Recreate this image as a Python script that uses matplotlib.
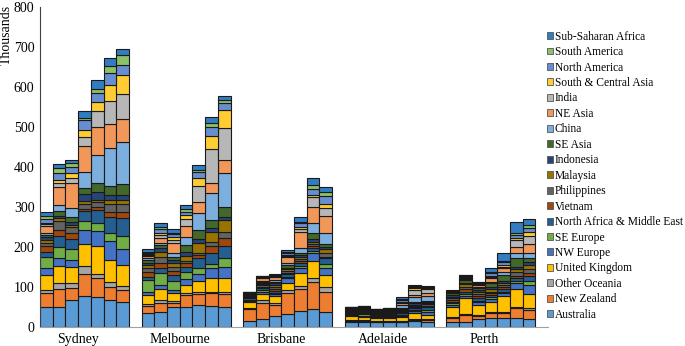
import numpy as np
import matplotlib
matplotlib.use("Agg")
import matplotlib.pyplot as plt
from matplotlib.patches import Patch

plt.rcParams['font.family'] = ['Liberation Serif', 'DejaVu Serif']

# Regions, bottom of the stack first
regions = ["Australia", "New Zealand", "Other Oceania", "United Kingdom",
           "NW Europe", "SE Europe", "North Africa & Middle East", "Vietnam",
           "Philippines", "Malaysia", "Indonesia", "SE Asia", "China",
           "NE Asia", "India", "South & Central Asia", "North America",
           "South America", "Sub-Saharan Africa"]

colors = ['#5B9BD5', '#ED7D31', '#A5A5A5', '#FFC000', '#4472C4', '#70AD47',
          '#255E91', '#9E480E', '#636363', '#997300', '#264478', '#43682B',
          '#7CAFDD', '#F1975A', '#B7B7B7', '#FFCD33', '#698ED0', '#8CC168',
          '#327DC2']

cities = ["Sydney", "Melbourne", "Brisbane", "Adelaide", "Perth"]

# one row per census bar, values in thousands (same order as regions)
sydney = [
    [50, 36, 7, 37, 17, 29, 13, 15, 6, 8, 7, 6, 5, 17, 5, 3, 10, 7, 10],
    [50, 45, 15, 43, 19, 28, 28, 15, 23, 6, 7, 11, 15, 46, 10, 7, 17, 12, 10],
    [67, 30, 14, 40, 17, 27, 25, 15, 15, 6, 8, 12, 21, 63, 12, 13, 16, 9, 8],
    [78, 56, 19, 54, 35, 23, 25, 5, 12, 8, 17, 17, 40, 63, 24, 16, 26, 4, 19],
    [75, 47, 12, 68, 38, 20, 34, 6, 12, 7, 18, 24, 69, 71, 38, 24, 23, 10, 22],
    [68, 33, 12, 56, 47, 20, 40, 12, 19, 10, 13, 24, 93, 61, 57, 41, 30, 17, 20],
    [62, 30, 11, 53, 39, 32, 45, 15, 21, 10, 13, 27, 104, 58, 63, 47, 25, 25, 15],
]
melbourne = [
    [36, 17, 5, 23, 8, 29, 8, 13, 8, 9, 5, 7, 4, 6, 3, 2, 3, 3, 6],
    [37, 24, 7, 27, 11, 29, 12, 14, 14, 14, 8, 9, 4, 12, 9, 5, 9, 5, 10],
    [50, 11, 5, 19, 8, 23, 15, 10, 10, 10, 7, 8, 9, 26, 7, 8, 7, 3, 9],
    [51, 30, 4, 21, 14, 19, 12, 9, 6, 12, 11, 17, 19, 28, 17, 11, 8, 6, 11],
    [56, 27, 4, 29, 17, 14, 25, 9, 5, 24, 10, 23, 42, 29, 39, 19, 17, 4, 13],
    [53, 32, 4, 35, 23, 11, 28, 17, 9, 27, 8, 21, 67, 26, 84, 33, 22, 10, 16],
    [51, 32, 6, 35, 27, 21, 32, 18, 17, 29, 8, 24, 86, 32, 80, 45, 17, 8, 10],
]
brisbane = [
    [16, 29, 2, 15, 4, 2, 4, 3, 3, 2, 2, 2, 1, 1, 0.5, 0.5, 0.5, 0.2, 0.5],
    [20, 41, 7, 15, 6, 4, 4, 3, 6, 2, 3, 3, 2, 6, 3, 1, 1, 0.5, 1],
    [28, 28, 5, 17, 5, 3, 5, 4, 6, 5, 4, 4, 4, 7, 3, 1, 2, 0.5, 1.5],
    [32, 53, 8, 18, 11, 4, 7, 3, 5, 4, 4, 7, 4, 15, 2, 3, 5, 2, 6],
    [41, 54, 8, 32, 14, 4, 8, 5, 4, 5, 6, 5, 11, 42, 6, 6, 10, 3, 11],
    [45, 69, 10, 42, 20, 5, 8, 4, 5, 6, 6, 15, 25, 40, 25, 6, 14, 11, 16],
    [39, 50, 11, 31, 18, 9, 14, 4, 9, 10, 6, 7, 27, 42, 21, 10, 19, 12, 12],
]
adelaide = [
    [12, 3, 2, 10, 3, 3, 3, 3, 2, 2, 1, 2, 1, 1, 1, 1, 0.5, 0.3, 0.2],
    [12, 3, 2, 9, 3, 3, 3, 3, 3, 2, 2, 2, 1, 1, 1, 1, 1, 0.5, 0.5],
    [12, 2, 1, 8, 2, 2, 3, 3, 2, 2, 2, 2, 1, 1, 1, 0.5, 1, 0.5, 0.3],
    [13, 2, 1, 8, 2, 2, 3, 3, 2, 2, 2, 2, 1, 2, 1, 0.5, 1, 0.5, 0.5],
    [12, 2, 1.5, 10.5, 3, 1.5, 4.5, 2, 3.5, 2.5, 2.5, 3.5, 6, 5, 2, 2, 4, 2, 5],
    [16, 2, 2, 16, 4, 3, 4, 3, 3, 3, 4, 4, 12, 4, 13, 4, 4, 2, 3],
    [14, 4, 2, 11, 8, 4, 7, 3, 4, 3, 2, 3, 13, 7, 10, 2, 3, 1, 3],
]
perth = [
    [12, 10, 3, 26, 4, 5, 4, 4, 4, 4, 4, 5, 1, 1, 1, 1, 1, 1, 1],
    [14, 17, 2, 39, 6, 5, 6, 6, 6, 6, 4, 7, 2, 2, 3, 2, 2, 1, 1],
    [20, 8, 3, 25, 6, 4, 6, 6, 5, 6, 4, 4, 4, 5, 2, 2, 1, 1, 2],
    [22, 14, 3, 25, 6, 5, 6, 4, 4, 6, 5, 11, 3, 8, 3, 3, 7, 2, 10],
    [22, 13, 2, 40, 8, 4, 6, 5, 6, 5, 5, 15, 8, 8, 4, 5, 8, 2, 19],
    [22, 25, 3, 45, 16, 5, 6, 6, 11, 6, 6, 21, 13, 15, 18, 6, 7, 4, 27],
    [21, 22, 4, 36, 23, 10, 12, 7, 10, 11, 8, 8, 14, 21, 21, 11, 8, 9, 14],
]

groups = [sydney, melbourne, brisbane, adelaide, perth]

fig = plt.figure(figsize=(6.85, 3.46), dpi=100)
ax = fig.add_axes([40 / 685, 1 - 327.3 / 346, 508 / 685, 320.3 / 346])

# bar positions: 7 bars per city, one empty slot between cities
xs, data = [], []
for g, rows in enumerate(groups):
    for i, row in enumerate(rows):
        xs.append(g * 8 + i + 0.5)
        data.append(row)
xs = np.array(xs)
data = np.array(data, dtype=float)

bottom = np.zeros(len(xs))
for k, name in enumerate(regions):
    ax.bar(xs, data[:, k], width=1.0, bottom=bottom, color=colors[k],
           edgecolor='#1a1a1a', linewidth=0.8, label=name)
    bottom += data[:, k]

ax.set_xlim(0, 40)
ax.set_ylim(0, 800)
ax.set_yticks(range(0, 801, 100))
ax.set_xticks([g * 8 + 3.0 for g in range(len(cities))])
ax.set_xticklabels(cities)
ax.tick_params(axis='both', length=0, labelsize=10, colors='black')
ax.tick_params(axis='x', pad=4)
ax.tick_params(axis='y', pad=4)
for s in ['top', 'right']:
    ax.spines[s].set_visible(False)
ax.spines['left'].set_color('#404040')
ax.spines['bottom'].set_color('#a0a0a0')

fig.text(0.0, 0.985, 'Thousands', rotation=90, va='top', ha='left', fontsize=10)

handles = [Patch(facecolor=c, edgecolor='#555555', linewidth=0.6) for c in colors]
fig.legend(handles[::-1], regions[::-1], loc='upper left',
           bbox_to_anchor=(542 / 685, 1 - 26 / 346), frameon=False,
           fontsize=8.3, handlelength=0.55, handleheight=0.55,
           handletextpad=0.15, labelspacing=0.3, borderaxespad=0)

fig.savefig('out.png', dpi=100)
